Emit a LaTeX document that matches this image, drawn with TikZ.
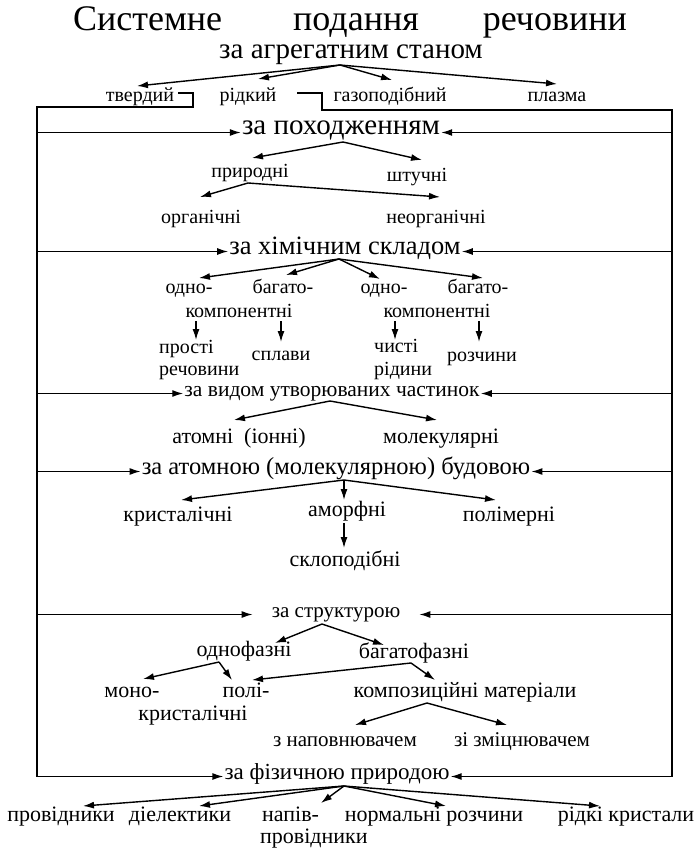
\documentclass[tikz,border=0pt]{standalone}
\usepackage{fontspec}
\setmainfont{Liberation Serif}
\usetikzlibrary{arrows.meta}
\tikzset{
  txt/.style={inner sep=1pt, text height=0.68em, text depth=0.18em, anchor=base},
  fs/.style={font=\fontsize{#1}{#1}\selectfont},
  arr/.style={-{Latex[length=11pt,width=7pt]}, line width=1.4pt},
}
\begin{document}
\begin{tikzpicture}[x=1pt,y=-1pt]
\useasboundingbox (0,0) rectangle (700,848);
% title
\node[inner sep=0pt,fs=36,anchor=base west] (title) at (73,31) {Системне\hspace{71pt}подання\hspace{64pt}речовини};
% level 1
\node[txt,fs=29] (agr) at (351,59) {за агрегатним станом};
\node[txt,fs=20] (tv) at (140,102) {твердий};
\node[txt,fs=20] (rid) at (248,102) {рідкий};
\node[txt,fs=20] (gaz) at (390,102) {газоподібний};
\node[txt,fs=20] (plaz) at (557,102) {плазма};
\draw[arr] ([shift={(-11,6)}]agr.base) -- ([shift={(-3,-16)}]tv.base);
\draw[arr] ([shift={(-11,6)}]agr.base) -- ([shift={(10,-23)}]rid.base);
\draw[arr] ([shift={(-11,6)}]agr.base) -- ([shift={(2,-22)}]gaz.base);
\draw[arr] ([shift={(-11,6)}]agr.base) -- ([shift={(0,-18)}]plaz.base);
% frame corners
\coordinate (LT) at (37,107);
\coordinate (RT) at (672,110);
% headings
\node[txt,fs=29] (po) at (341,135) {за походженням};
\node[txt,fs=26.5] (khim) at (345,254) {за хімічним складом};
\node[txt,fs=21.5] (vyd) at (332,396) {за видом утворюваних частинок};
\node[txt,fs=24.5] (bud) at (336,474) {за атомною (молекулярною) будовою};
\node[txt,fs=21] (str) at (336,617) {за структурою};
\node[txt,fs=23] (fiz) at (337,779) {за фізичною природою};
% frame
\draw[arr] ([shift={(38,-9)}]tv.base) -- ++(15,0) |- (LT) -- (LT |- fiz.west) -- (fiz.west);
\draw[arr] ([shift={(-93,-9)}]gaz.base) -- ++(25,0) |- (RT) -- (RT |- fiz.east) -- (fiz.east);
\foreach \h in {po,khim,vyd,bud}{
  \draw[arr] (LT |- \h.west) -- (\h.west);
  \draw[arr] (RT |- \h.east) -- (\h.east);
}
\draw[arr,shorten >=18pt] (LT |- str.west) -- (str.west);
\draw[arr,shorten >=18pt] (RT |- str.east) -- (str.east);
% origin
\node[txt,fs=20] (pryr) at (250,177) {природні};
\node[txt,fs=20] (shtu) at (417,181) {штучні};
\draw[arr] ([shift={(2,7)}]po.base) -- ([shift={(2,-19)}]pryr.base);
\draw[arr] ([shift={(2,7)}]po.base) -- ([shift={(5,-21)}]shtu.base);
\node[txt,fs=20] (org) at (201,223) {органічні};
\node[txt,fs=20] (neorg) at (436,223) {неорганічні};
\draw[arr] ([shift={(-2,6)}]pryr.base) -- ([shift={(-1,-26)}]org.base);
\draw[arr] ([shift={(-2,6)}]pryr.base) -- ([shift={(4,-26)}]neorg.base);
% chemical composition
\node[txt,fs=20] (o1) at (189,293) {одно-};
\node[txt,fs=20] (b1) at (283,293) {багато-};
\node[txt,fs=20] (o2) at (384,293) {одно-};
\node[txt,fs=20] (b2) at (478,293) {багато-};
\node[txt,fs=20] (k1) at (239,317) {компонентні};
\node[txt,fs=20] (k2) at (437,317) {компонентні};
\draw[arr] ([shift={(-6,5)}]khim.base) -- ([shift={(10,-15)}]o1.base);
\draw[arr] ([shift={(-6,5)}]khim.base) -- ([shift={(3,-18)}]b1.base);
\draw[arr] ([shift={(-6,5)}]khim.base) -- ([shift={(-4,-14)}]o2.base);
\draw[arr] ([shift={(-6,5)}]khim.base) -- ([shift={(5,-15)}]b2.base);
\node[txt,fs=20,anchor=base west] (pr1) at (158,353) {прості};
\node[txt,fs=20,anchor=base west] (pr2) at (158,375) {речовини};
\node[txt,fs=20] (spl) at (281,360) {сплави};
\node[txt,fs=20,anchor=base west] (ch1) at (373,352) {чисті};
\node[txt,fs=20,anchor=base west] (ch2) at (373,375) {рідини};
\node[txt,fs=20] (roz) at (482,361) {розчини};
\draw[arr] ([shift={(-43,4)}]k1.base) -- ([shift={(38,-13)}]pr1.base west);
\draw[arr] ([shift={(42,4)}]k1.base) -- ([shift={(0,-18)}]spl.base);
\draw[arr] ([shift={(-42,4)}]k2.base) -- ([shift={(22,-12)}]ch1.base west);
\draw[arr] ([shift={(42,4)}]k2.base) -- ([shift={(-3,-19)}]roz.base);
% particles
\node[txt,fs=22] (atom) at (239,443) {атомні\ \ (іонні)};
\node[txt,fs=22] (mol) at (441,443) {молекулярні};
\draw[arr] ([shift={(-2,5)}]vyd.base) -- ([shift={(-5,-23)}]atom.base);
\draw[arr] ([shift={(-2,5)}]vyd.base) -- ([shift={(-4,-23)}]mol.base);
% structure by atoms
\node[txt,fs=22] (kryst) at (178,521) {кристалічні};
\node[txt,fs=22] (amorf) at (347,516) {аморфні};
\node[txt,fs=22] (polim) at (509,521) {полімерні};
\draw[arr] ([shift={(8,6)}]bud.base) -- ([shift={(3,-21)}]kryst.base);
\draw[arr] ([shift={(8,6)}]bud.base) -- ([shift={(-3,-16)}]amorf.base);
\draw[arr] ([shift={(8,6)}]bud.base) -- ([shift={(-13,-21)}]polim.base);
\node[txt,fs=22] (sklo) at (345,566) {склоподібні};
\draw[arr] ([shift={(-3,7)}]amorf.base) -- ([shift={(-1,-18)}]sklo.base);
% structure
\node[txt,fs=22] (odn) at (244,656) {однофазні};
\node[txt,fs=22] (bag) at (414,658) {багатофазні};
\draw[arr] ([shift={(-14,7)}]str.base) -- ([shift={(31,-13)}]odn.base);
\draw[arr] ([shift={(-14,7)}]str.base) -- ([shift={(-30,-13)}]bag.base);
\node[txt,fs=22] (mono) at (132,697) {моно-};
\node[txt,fs=22] (poli) at (246,697) {полі-};
\node[txt,fs=22] (komp) at (465,697) {композиційні матеріали};
\node[txt,fs=22] (kr2) at (193,720) {кристалічні};
\draw[arr] ([shift={(-25,6)}]odn.base) -- ([shift={(11,-18)}]mono.base);
\draw[arr] ([shift={(-25,6)}]odn.base) -- ([shift={(-14,-17)}]poli.base);
\draw[arr] ([shift={(-3,5)}]bag.base) -- ([shift={(6,-17)}]poli.base);
\draw[arr] ([shift={(-3,5)}]bag.base) -- ([shift={(-30,-17)}]komp.base);
\node[txt,fs=21] (nap) at (345,746) {з наповнювачем};
\node[txt,fs=21] (zm) at (522,746) {зі зміцнювачем};
\draw[arr] ([shift={(-38,6)}]komp.base) -- ([shift={(10,-21)}]nap.base);
\draw[arr] ([shift={(-38,6)}]komp.base) -- ([shift={(-15,-21)}]zm.base);
% physical nature
\node[txt,fs=22] (prov) at (61,821) {провідники};
\node[txt,fs=22] (diel) at (180,821) {діелектики};
\node[txt,fs=22,anchor=base west] (np1) at (261,821) {напів-};
\node[txt,fs=22,anchor=base west] (np2) at (259,843) {провідники};
\node[txt,fs=22] (norm) at (434,821) {нормальні розчини};
\node[txt,fs=22] (ridk) at (626,821) {рідкі кристали};
\draw[arr] ([shift={(7,7)}]fiz.base) -- ([shift={(22,-15)}]prov.base);
\draw[arr] ([shift={(7,7)}]fiz.base) -- ([shift={(19,-15)}]diel.base);
\draw[arr] ([shift={(7,7)}]fiz.base) -- ([shift={(60,-18)}]np1.base west);
\draw[arr] ([shift={(7,7)}]fiz.base) -- ([shift={(12,-15)}]norm.base);
\draw[arr] ([shift={(7,7)}]fiz.base) -- ([shift={(-26,-15)}]ridk.base);
\end{tikzpicture}
\end{document}
